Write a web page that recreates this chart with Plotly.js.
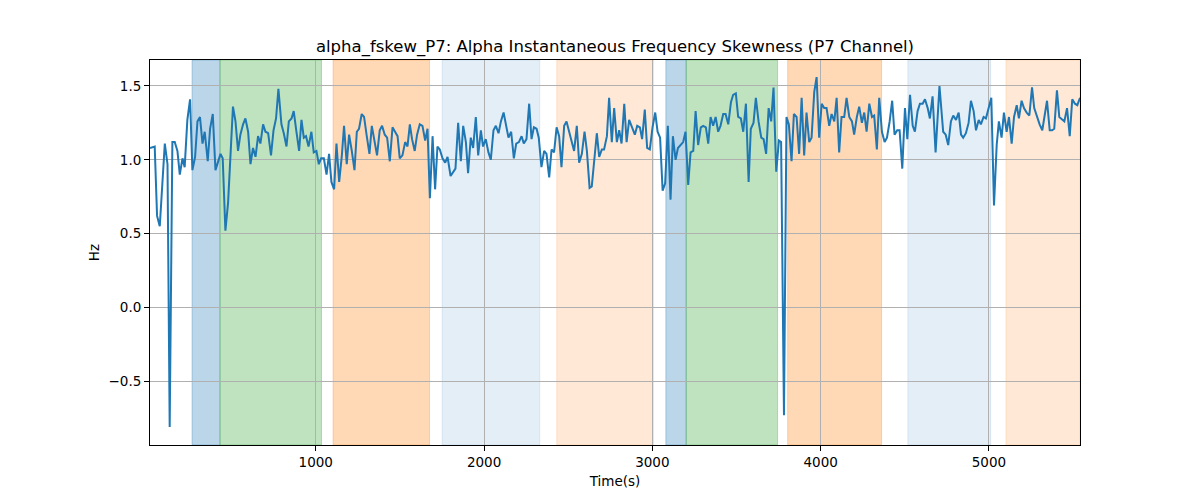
<!DOCTYPE html>
<html>
<head>
<meta charset="utf-8">
<script src="https://cdn.plot.ly/plotly-3.0.1.min.js"></script>
<style>
  html, body { margin: 0; padding: 0; background: #fff; }
  #chart { width: 1200px; height: 500px; }
</style>
</head>
<body>
<div id="chart"></div>
<script>
// time (s) and skewness (Hz)
let times = [
  15, 43, 57, 73, 103, 119, 132, 148, 162, 178, 192, 208, 221, 237, 253, 267, 283, 297, 312, 327,
  340, 358, 372, 388, 404, 418, 434, 447, 463, 479, 493, 508, 523, 538, 552, 568, 582, 598, 612, 627,
  642, 657, 671, 687, 701, 717, 734, 749, 764, 778, 796, 810, 826, 840, 856, 869, 885, 901, 915, 929,
  942, 957, 974, 988, 1004, 1018, 1032, 1048, 1064, 1079, 1093, 1109, 1123, 1139, 1155, 1168, 1184, 1198, 1214, 1230,
  1244, 1257, 1273, 1287, 1303, 1319, 1333, 1349, 1364, 1380, 1394, 1410, 1424, 1440, 1456, 1471, 1486, 1499, 1515, 1531,
  1545, 1559, 1572, 1588, 1602, 1618, 1634, 1650, 1664, 1678, 1694, 1709, 1723, 1737, 1753, 1769, 1783, 1801, 1816, 1830,
  1846, 1862, 1876, 1892, 1905, 1921, 1935, 1951, 1965, 1981, 1994, 2010, 2026, 2040, 2056, 2070, 2086, 2100, 2116, 2131,
  2145, 2161, 2177, 2191, 2207, 2223, 2236, 2252, 2268, 2282, 2296, 2312, 2325, 2341, 2357, 2371, 2387, 2401, 2416, 2431,
  2446, 2460, 2476, 2490, 2505, 2520, 2535, 2551, 2565, 2581, 2597, 2611, 2627, 2640, 2654, 2670, 2684, 2700, 2713, 2730,
  2743, 2759, 2773, 2789, 2803, 2817, 2833, 2847, 2862, 2880, 2896, 2910, 2926, 2939, 2955, 2969, 2985, 3001, 3017, 3031,
  3046, 3061, 3076, 3092, 3108, 3122, 3138, 3152, 3168, 3183, 3197, 3213, 3227, 3243, 3257, 3272, 3288, 3302, 3318, 3332,
  3346, 3361, 3376, 3391, 3405, 3421, 3435, 3451, 3467, 3480, 3496, 3510, 3526, 3540, 3556, 3572, 3585, 3601, 3615, 3631,
  3647, 3661, 3676, 3691, 3706, 3720, 3736, 3752, 3765, 3782, 3797, 3811, 3827, 3841, 3857, 3872, 3887, 3902, 3916, 3932,
  3946, 3962, 3976, 3991, 4006, 4021, 4035, 4051, 4065, 4081, 4095, 4110, 4124, 4140, 4154, 4170, 4186, 4199, 4215, 4229,
  4245, 4259, 4273, 4289, 4305, 4318, 4334, 4348, 4364, 4380, 4394, 4410, 4425, 4439, 4455, 4469, 4485, 4501, 4515, 4531,
  4547, 4560, 4576, 4590, 4606, 4620, 4636, 4649, 4665, 4683, 4706, 4728, 4743, 4758, 4774, 4788, 4804, 4820, 4834, 4847,
  4863, 4879, 4893, 4909, 4923, 4939, 4952, 4968, 4982, 4998, 5014, 5030, 5046, 5059, 5075, 5089, 5105, 5119, 5135, 5149,
  5165, 5178, 5194, 5208, 5224, 5240, 5256, 5269, 5285, 5301, 5317, 5331, 5345, 5361, 5375, 5388, 5404, 5418, 5434, 5448,
  5464, 5480, 5495, 5511, 5525, 5541
];

let skew = [
  1.08, 1.09, 0.62, 0.55, 1.11, 0.97, -0.81, 1.12, 1.12, 1.06, 0.90, 1.01, 0.95, 1.27, 1.41, 0.93, 1.02, 1.26, 1.29, 1.11,
  1.19, 0.99, 1.21, 1.31, 0.93, 0.99, 1.04, 1.01, 0.52, 0.71, 1.05, 1.36, 1.26, 1.06, 1.17, 1.24, 1.28, 1.19, 0.97, 1.08,
  1.02, 1.16, 1.11, 1.24, 1.19, 1.18, 1.03, 1.20, 1.28, 1.48, 1.24, 1.18, 1.09, 1.26, 1.28, 1.33, 1.19, 1.06, 1.27, 1.15,
  1.16, 1.09, 1.19, 1.05, 1.06, 0.97, 1.01, 1.01, 0.90, 1.04, 0.85, 0.80, 1.11, 0.85, 1.03, 1.23, 0.97, 1.17, 1.06, 0.93,
  1.19, 1.21, 1.31, 1.29, 1.16, 1.04, 1.23, 1.11, 1.03, 1.20, 1.23, 1.17, 1.15, 0.99, 1.22, 1.19, 1.16, 1.01, 1.03, 1.12,
  1.09, 1.24, 1.14, 1.06, 1.17, 1.24, 1.23, 1.13, 1.21, 0.74, 1.16, 0.80, 1.09, 1.07, 1.01, 0.98, 1.02, 0.89, 0.92, 0.94,
  1.25, 0.99, 1.23, 1.12, 0.91, 1.15, 1.08, 1.29, 1.03, 1.20, 1.09, 1.14, 1.05, 1.00, 1.20, 1.23, 1.18, 1.26, 1.32, 1.24,
  1.15, 1.19, 1.01, 1.11, 1.12, 1.16, 1.11, 1.14, 1.38, 1.14, 1.22, 1.21, 1.15, 0.95, 1.06, 1.04, 0.88, 1.07, 1.05, 1.22,
  1.16, 0.95, 1.23, 1.26, 1.19, 1.11, 1.06, 1.23, 0.98, 1.04, 1.19, 1.06, 0.81, 0.82, 0.99, 1.18, 1.02, 1.07, 1.07, 1.16,
  1.42, 1.12, 1.35, 1.12, 1.20, 1.11, 1.38, 1.12, 1.27, 1.21, 1.17, 1.23, 1.22, 1.14, 1.34, 1.08, 1.07, 1.22, 1.32, 1.19,
  1.15, 0.79, 0.84, 1.23, 0.73, 1.16, 1.00, 1.08, 1.10, 1.12, 1.19, 0.83, 1.05, 1.06, 1.33, 1.10, 1.22, 1.23, 1.22, 1.11,
  1.29, 1.23, 1.29, 1.19, 1.23, 1.31, 1.31, 1.24, 1.39, 1.44, 1.45, 1.29, 1.28, 1.19, 1.38, 0.85, 1.21, 1.25, 1.42, 1.26,
  1.15, 1.14, 1.04, 1.35, 1.26, 1.49, 0.92, 1.13, 1.12, -0.73, 1.29, 1.24, 0.99, 1.31, 1.29, 1.04, 1.42, 1.03, 1.32, 1.12,
  1.15, 1.46, 1.56, 1.15, 1.38, 1.35, 1.35, 1.23, 1.31, 1.26, 1.42, 1.05, 1.29, 1.29, 1.42, 1.29, 1.26, 1.17, 1.29, 1.36,
  1.25, 1.32, 1.19, 1.38, 1.29, 1.30, 1.07, 1.42, 1.19, 1.12, 1.15, 1.26, 1.40, 1.17, 1.20, 1.20, 0.94, 1.35, 1.14, 1.44,
  1.23, 1.19, 1.33, 1.38, 1.38, 1.41, 1.35, 1.28, 1.43, 1.05, 1.50, 1.19, 1.17, 1.10, 1.26, 1.30, 1.27, 1.32, 1.17, 1.15,
  1.18, 1.25, 1.40, 1.33, 1.20, 1.27, 1.24, 1.29, 1.28, 1.35, 1.42, 0.69, 1.10, 1.26, 1.15, 1.32, 1.19, 1.29, 1.11, 1.29,
  1.37, 1.28, 1.40, 1.35, 1.32, 1.30, 1.49, 1.35, 1.29, 1.24, 1.20, 1.31, 1.40, 1.20, 1.20, 1.21, 1.47, 1.29, 1.27, 1.26,
  1.35, 1.16, 1.41, 1.38, 1.37, 1.42
];

// shaded segments
let bandStart = [265, 431, 1103, 1751, 2432, 3080, 3201, 3804, 4518, 5101];
let bandEnd   = [431, 1034, 1676, 2331, 3007, 3201, 3744, 4362, 5010, 5541];
let bandKind  = ['blue', 'green', 'orange', 'lightblue', 'lightorange',
                 'blue', 'green', 'orange', 'lightblue', 'lightorange'];

let bandColor = {
    blue: 'rgba(31,119,180,0.3)',
    green: 'rgba(44,160,44,0.3)',
    orange: 'rgba(255,127,14,0.3)',
    lightblue: 'rgba(31,119,180,0.12)',
    lightorange: 'rgba(255,127,14,0.17)',
};

let shapes = [];
for (let i = 0; i < bandStart.length; i++) {
    shapes.push({
        type: 'rect',
        xref: 'x',
        yref: 'paper',
        x0: bandStart[i],
        x1: bandEnd[i],
        y0: 0,
        y1: 1,
        fillcolor: bandColor[bandKind[i]],
        line: { color: bandColor[bandKind[i]], width: 1 },
        layer: 'below',
    });
}

let trace = {
    type: 'scatter',
    mode: 'lines',
    x: times,
    y: skew,
    line: { color: '#1f77b4', width: 2 },
    hoverinfo: 'skip',
};

let axisStyle = {
    showline: true,
    linecolor: '#000',
    linewidth: 1,
    mirror: true,
    ticks: 'outside',
    ticklen: 5,
    tickwidth: 1,
    tickcolor: '#000',
    showgrid: true,
    gridcolor: '#b0b0b0',
    gridwidth: 1,
    zeroline: false,
    tickfont: { family: 'DejaVu Sans', size: 13.5, color: '#000' },
};

let layout = {
    width: 1200,
    height: 500,
    margin: { l: 150, r: 120, t: 60, b: 55 },
    paper_bgcolor: '#fff',
    plot_bgcolor: '#fff',
    showlegend: false,
    font: { family: 'DejaVu Sans', color: '#000' },
    title: {
        text: 'alpha_fskew_P7: Alpha Instantaneous Frequency Skewness (P7 Channel)',
        font: { family: 'DejaVu Sans', size: 16.5, color: '#000' },
        x: 0.5,
        xref: 'paper',
        xanchor: 'center',
        y: 0.908,
        yref: 'container',
        yanchor: 'middle',
    },
    xaxis: Object.assign({}, axisStyle, {
        range: [15, 5541],
        tick0: 0,
        dtick: 1000,
        title: { text: 'Time(s)', font: { family: 'DejaVu Sans', size: 13.5 }, standoff: 7 },
    }),
    yaxis: Object.assign({}, axisStyle, {
        range: [-0.932, 1.676],
        tick0: 0,
        dtick: 0.5,
        tickformat: '.1f',
        title: { text: 'Hz', font: { family: 'DejaVu Sans', size: 13.5 }, standoff: 5 },
    }),
    shapes: shapes,
};

Plotly.newPlot('chart', [trace], layout, { staticPlot: true, displayModeBar: false });
</script>
</body>
</html>
